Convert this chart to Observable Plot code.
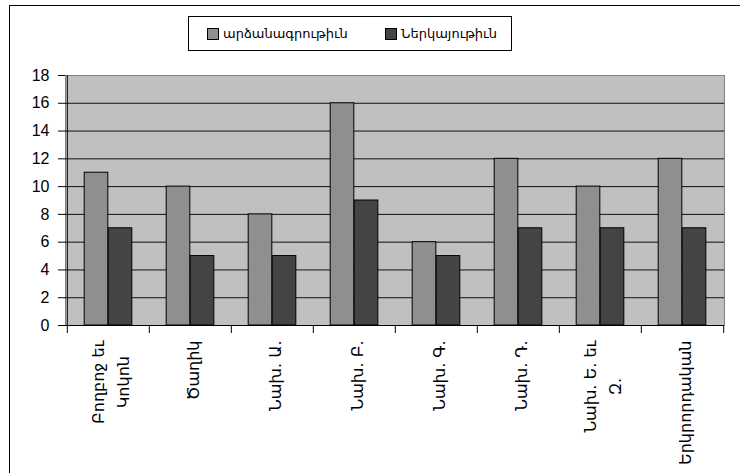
<!DOCTYPE html>
<html><head><meta charset="utf-8">
<script src="https://cdn.jsdelivr.net/npm/d3@7"></script>
<script src="https://cdn.jsdelivr.net/npm/@observablehq/plot@0.6"></script>
<style>
body{margin:0;background:#fff;overflow:hidden}
#wrap{position:relative;width:740px;height:473px;overflow:hidden;font-family:"Liberation Sans",Arial,sans-serif;background:#fff}
#wrap svg{position:absolute;left:0;top:0}
#border{position:absolute;left:9px;top:5px;width:800px;height:600px;border:1px solid #000;pointer-events:none}
#legend{position:absolute;left:188px;top:16px;width:322px;height:33px;border:1px solid #000;background:#fff;font-family:"DejaVu Sans",sans-serif;font-size:13px;color:#000}
.item{position:absolute;top:0;height:33px;display:flex;align-items:center;white-space:nowrap}
.sw{width:10px;height:10px;border:1px solid #000;margin-right:4px;flex:none}
</style>
</head><body>
<div id="wrap"><div id="border"></div></div>
<script>
const categories = ["Բողբոջ եւ\nԿոկոն", "Ծաղիկ", "Նախ. Ա.", "Նախ. Բ.", "Նախ. Գ.", "Նախ. Դ.", "Նախ. Ե. եւ\nԶ.", "Երկրորդական"];
const seriesNames = ["արձանագրութիւն", "Ներկայութիւն"];
const registered = [11, 10, 8, 16, 6, 12, 10, 12];
const attendance = [7, 5, 5, 9, 5, 7, 7, 7];
const yTicks = [0, 2, 4, 6, 8, 10, 12, 14, 16, 18];
const seriesColors = ["#8f8f8f", "#444444"];

const W = 740, H = 473, ML = 65, MR = 16, MT = 75, MB = 148;
const n = categories.length;
const bw = (W - ML - MR) / n;
const barW = 24;
const gap = bw / 2 - barW;

const rows1 = categories.map((c, i) => ({cat: c, v: registered[i]}));
const rows2 = categories.map((c, i) => ({cat: c, v: attendance[i]}));

const chart = Plot.plot({
  width: W, height: H,
  marginLeft: ML, marginRight: MR, marginTop: MT, marginBottom: MB,
  style: {background: "transparent", fontFamily: "'Liberation Sans', Arial, sans-serif", fontSize: "16px", color: "#000"},
  x: {type: "band", domain: categories, padding: 0, axis: null, label: null},
  y: {domain: [0, 18], axis: null, label: null},
  marks: [
    Plot.frame({fill: "#c0c0c0", stroke: "#808080"}),
    Plot.ruleY(yTicks.filter(d => d > 0 && d < 18), {stroke: "#111"}),
    Plot.barY(rows1, {x: "cat", y: "v", fill: seriesColors[0], stroke: "#000", insetLeft: gap, insetRight: bw / 2}),
    Plot.barY(rows2, {x: "cat", y: "v", fill: seriesColors[1], stroke: "#000", insetLeft: bw / 2, insetRight: gap}),
    Plot.ruleY([0], {stroke: "#000"}),
    Plot.ruleX([categories[0]], {dx: -bw / 2, stroke: "#000"}),
    Plot.axisY({ticks: yTicks, tickSize: 7, tickPadding: 9, fontSize: 16, tickFormat: d => String(d), stroke: "#000", label: null}),
    Plot.axisX({ticks: categories, tickSize: 8, tickFormat: () => "", dx: -bw / 2, stroke: "#000", label: null}),
    Plot.axisX({ticks: [categories[n - 1]], tickSize: 8, tickFormat: () => "", dx: bw / 2, stroke: "#000", label: null}),
    Plot.text(categories, {x: d => d, frameAnchor: "bottom", dy: 15, rotate: -90, textAnchor: "end", lineAnchor: "middle", lineHeight: 1.6, fontFamily: "'DejaVu Sans', sans-serif", fontSize: 16, fill: "#000", className: "catlab"})
  ]
});

const wrap = document.getElementById("wrap");
wrap.insertBefore(chart, wrap.firstChild);

// center the lines of multi-line category labels within their block
chart.querySelectorAll(".catlab text").forEach(t => {
  const spans = t.querySelectorAll("tspan");
  if (spans.length > 1) {
    let maxW = 0;
    spans.forEach(s => { maxW = Math.max(maxW, s.getComputedTextLength()); });
    t.setAttribute("text-anchor", "middle");
    spans.forEach(s => s.setAttribute("x", -maxW / 2));
  }
});

// legend
const legend = document.createElement("div");
legend.id = "legend";
const lefts = [18, 196];
seriesNames.forEach((name, i) => {
  const it = document.createElement("div");
  it.className = "item";
  it.style.left = lefts[i] + "px";
  const sw = document.createElement("span");
  sw.className = "sw";
  sw.style.background = seriesColors[i];
  const tx = document.createElement("span");
  tx.textContent = name;
  it.appendChild(sw); it.appendChild(tx);
  legend.appendChild(it);
});
wrap.appendChild(legend);
</script>
</body></html>
